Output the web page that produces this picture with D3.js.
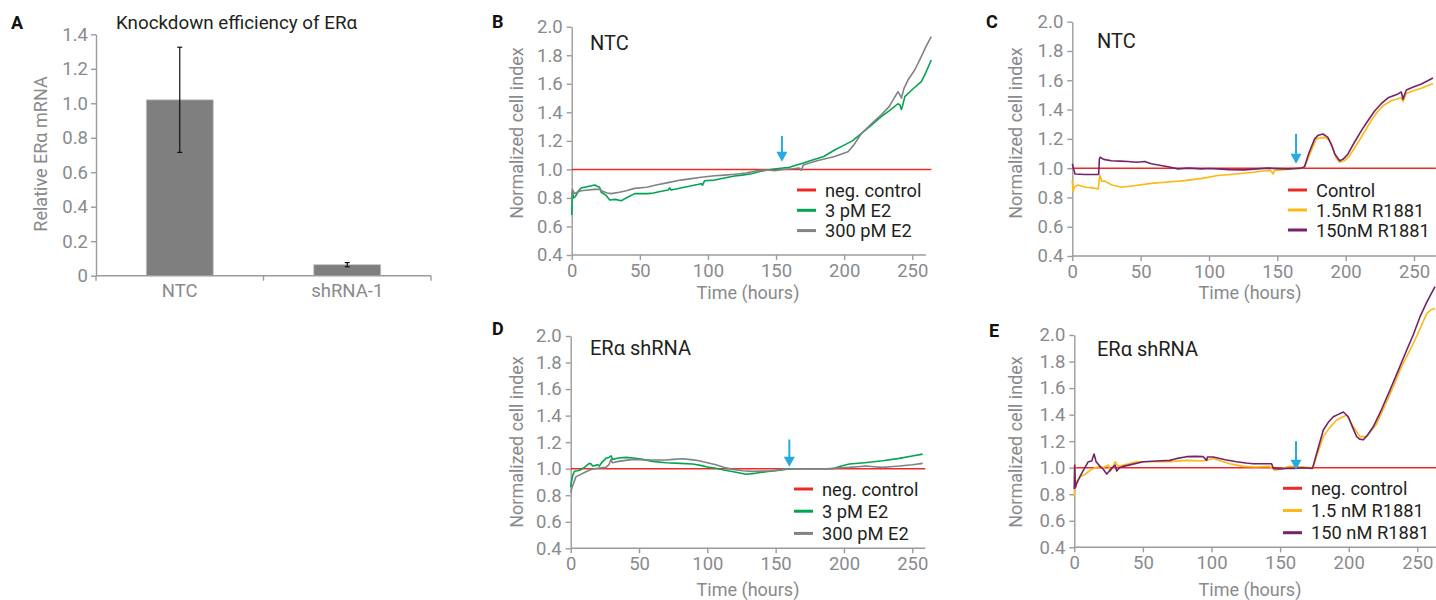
<!DOCTYPE html>
<html><head><meta charset="utf-8">
<script src="https://cdn.jsdelivr.net/npm/d3@7"></script>
<style>body{margin:0;background:#fff} text{font-family:Roboto,"Noto Sans",sans-serif}</style>
</head><body>
<svg id="chart" width="1436" height="600"></svg>
<script>
// ---------------- DATA ----------------
const knockdownCategories = ["NTC", "shRNA-1"];
const knockdownValues = [1.02, 0.064];
const knockdownErrors = [0.305, 0.012];
const knockdownTicks = [0, 0.2, 0.4, 0.6, 0.8, 1.0, 1.2, 1.4];
const cellIndexTicks = [0.4, 0.6, 0.8, 1.0, 1.2, 1.4, 1.6, 1.8, 2.0];
const timeTicks = [0, 50, 100, 150, 200, 250];

// Panel B (NTC, E2)  [hours, normalized cell index]
const bControl = [[0, 1], [264, 1]];
const bE2_3pM = [[0,0.68],[0.5,0.84],[1.5,0.80],[2.7,0.81],[5,0.85],[7,0.87],[12,0.88],[16.9,0.89],[19,0.88],[20.5,0.875],[21.7,0.84],[25,0.82],[27.9,0.785],[32,0.79],[36.4,0.78],[40,0.80],[46.2,0.83],[56,0.83],[60,0.835],[65,0.845],[70.7,0.855],[72,0.87],[73,0.855],[80,0.87],[88,0.885],[95,0.90],[96,0.89],[97.5,0.92],[105,0.925],[112,0.94],[119.6,0.954],[125,0.96],[132,0.97],[138,0.985],[144,0.996],[150,1.005],[155,1.01],[160,1.015],[165,1.03],[168.5,1.04],[175,1.06],[185,1.09],[193,1.136],[200,1.17],[206,1.2],[212.5,1.25],[220,1.31],[227.2,1.37],[233,1.41],[239.5,1.46],[241,1.45],[242,1.42],[243,1.45],[244.5,1.51],[250,1.56],[256.6,1.615],[260,1.68],[263.9,1.767]];
const bE2_300pM = [[0,0.80],[0.5,0.86],[2,0.83],[4,0.84],[7,0.85],[12,0.855],[17,0.86],[20.5,0.86],[23,0.845],[26,0.835],[29,0.83],[35,0.84],[40,0.85],[46,0.867],[55,0.875],[62,0.89],[70.7,0.907],[80,0.925],[88,0.935],[95,0.945],[105,0.955],[112,0.96],[119.6,0.966],[128,0.975],[136,0.99],[144,0.996],[149,0.99],[155,1.0],[162,1.005],[167,1.01],[168.5,0.995],[170,1.03],[180,1.06],[193,1.09],[202.8,1.124],[207,1.17],[212.5,1.25],[220,1.32],[227,1.38],[233,1.44],[239.5,1.545],[241,1.52],[242,1.50],[244,1.57],[246.8,1.626],[252,1.70],[256.6,1.79],[260,1.86],[263.9,1.93]];

// Panel C (NTC, R1881)
const cControl = [[0, 1], [266, 1]];
const cR1881_1_5nM = [[0,0.92],[0.5,0.84],[1.5,0.87],[4,0.885],[10,0.87],[15,0.865],[19,0.858],[19.8,0.93],[20.3,0.95],[21.5,0.91],[23.7,0.912],[26,0.9],[28.5,0.887],[36,0.87],[45,0.88],[57.8,0.896],[70,0.905],[82.2,0.915],[95,0.93],[106.5,0.95],[120,0.96],[131,0.97],[140,0.98],[145,0.985],[147,0.96],[148,0.985],[155,0.99],[162,0.995],[167.5,1.0],[170,1.01],[174,1.1],[178.5,1.2],[181,1.205],[184.6,1.21],[188.3,1.19],[191,1.13],[193,1.07],[195.6,1.04],[199,1.05],[202.9,1.085],[208,1.16],[214,1.25],[219,1.33],[223.7,1.39],[228,1.43],[233.4,1.46],[240.7,1.48],[242,1.455],[243,1.48],[244.4,1.51],[250,1.53],[255.4,1.546],[263.9,1.578]];
const cR1881_150nM = [[0,1.03],[0.8,1.0],[2,0.96],[9,0.957],[19.3,0.957],[19.8,1.06],[20.3,1.074],[23,1.06],[28.5,1.05],[35,1.048],[40.7,1.045],[47,1.04],[52.9,1.045],[57.8,1.03],[64,1.02],[70,1.01],[77.3,0.995],[85,1.0],[94.3,0.995],[100,0.998],[106.5,0.995],[115,0.99],[126,0.988],[135,0.995],[143,1.0],[150,0.997],[157.7,0.995],[163,0.998],[167.5,1.0],[169.9,1.01],[173,1.1],[177.3,1.2],[180,1.225],[183.4,1.233],[187,1.21],[190,1.15],[192,1.097],[195.6,1.05],[198,1.06],[201.7,1.097],[206,1.17],[211.5,1.256],[216,1.32],[221.2,1.39],[226,1.44],[231,1.48],[238.3,1.507],[240.7,1.52],[242,1.47],[243,1.50],[244.4,1.534],[250,1.555],[255.4,1.575],[263.9,1.616]];

// Panel D (ERa shRNA, E2)
const dControl = [[0, 1], [259.5, 1]];
const dE2_3pM = [[0,0.86],[0.3,0.89],[1.5,0.95],[2.7,0.98],[5,0.985],[7,0.99],[10,1.01],[13.6,1.04],[15,1.035],[16,1.02],[18,1.025],[19.7,1.03],[21,1.02],[23,1.05],[25.8,1.078],[28,1.085],[29.5,1.096],[30.7,1.07],[35,1.08],[40.5,1.085],[46,1.08],[52.7,1.07],[60,1.055],[69.7,1.045],[80,1.04],[89.3,1.035],[95,1.025],[100,1.012],[106.3,1.003],[112,0.99],[120,0.975],[128.3,0.958],[135,0.965],[143,0.977],[150,0.985],[157,0.995],[162.5,1.0],[175,1.0],[191.8,1.0],[198,1.02],[203.9,1.035],[215,1.045],[228.3,1.06],[240.5,1.078],[250,1.095],[257.6,1.11]];
const dE2_300pM = [[0,0.82],[1,0.86],[3.9,0.94],[7,0.955],[11.2,0.977],[14,0.99],[17,1.0],[21,1.005],[25.8,1.01],[28,1.03],[29.5,1.07],[30.5,1.045],[35,1.055],[45.3,1.07],[55,1.065],[69.7,1.065],[75,1.07],[81.9,1.075],[88,1.068],[94,1.06],[100,1.045],[106.3,1.03],[112,1.01],[118.6,0.995],[126,0.985],[133,0.98],[140,0.982],[147.7,0.985],[155,0.995],[162.5,1.0],[175,1.0],[187,1.0],[195,1.005],[203.9,1.01],[210,1.015],[216,1.02],[222,1.015],[228,1.01],[234,1.015],[240.5,1.02],[250,1.03],[257.6,1.04]];

// Panel E (ERa shRNA, R1881)
const eControl = [[0, 1], [264, 1]];
const eR1881_1_5nM = [[0,0.78],[0.3,1.02],[0.8,0.85],[2,0.90],[4.1,0.932],[8,0.95],[11.4,0.98],[15,1.0],[18.8,1.01],[21,1.0],[24.9,1.02],[26.1,0.97],[28,1.0],[29.7,1.045],[32.2,1.01],[36,1.02],[45.5,1.045],[55,1.045],[69.7,1.045],[81.9,1.055],[94,1.05],[101.3,1.07],[107,1.05],[113.4,1.03],[123.1,1.01],[132,1.005],[142.5,1.01],[146.2,0.98],[150,0.99],[157.1,1.01],[166.8,1.005],[174,1.0],[177,1.1],[181.5,1.234],[186,1.30],[191.2,1.36],[198.4,1.397],[200.5,1.36],[203.3,1.31],[208.2,1.234],[213,1.234],[220.3,1.33],[226,1.46],[232.5,1.61],[238,1.75],[244.7,1.887],[250,2.0],[256.9,2.163],[260,2.19],[262.9,2.20]];
const eR1881_150nM = [[0,0.84],[0.3,1.02],[0.8,0.85],[1.7,0.88],[4,0.93],[6.6,0.98],[10.2,1.045],[12.7,1.05],[14.4,1.103],[15.9,1.045],[18.8,1.01],[21,0.99],[23.6,0.952],[27.3,0.995],[29.7,1.02],[30.9,0.975],[33,1.0],[35.7,1.01],[42,1.025],[50.3,1.045],[60,1.05],[69.7,1.055],[75,1.07],[81.9,1.083],[88,1.085],[94,1.083],[96.5,1.055],[97,1.08],[101.3,1.08],[110,1.06],[118.3,1.045],[125,1.035],[130.4,1.03],[143.8,1.03],[145,0.995],[150,0.99],[154.7,0.995],[160,0.995],[166.8,1.0],[173.6,0.995],[177,1.12],[181.5,1.284],[185,1.34],[188.8,1.384],[192,1.40],[196.1,1.42],[199.7,1.384],[203,1.30],[205.8,1.234],[208,1.215],[210.7,1.21],[214,1.25],[218,1.31],[224,1.44],[230.1,1.585],[236,1.73],[242.3,1.887],[247,2.0],[252,2.138],[257,2.25],[262.9,2.364]];

// Treatment arrows: [hour, top value, tip value]
const bArrow = [154.3, 1.234, 1.054];
const cArrow = [163.7, 1.234, 1.03];
const dArrow = [160, 1.22, 1.015];
const eArrow = [161.6, 1.20, 0.985];

const e2Labels = ["neg. control", "3 pM E2", "300 pM E2"];
const cLabels = ["Control", "1.5nM R1881", "150nM R1881"];
const eLabels = ["neg. control", "1.5 nM R1881", "150 nM R1881"];

// ---------------- STYLE / LAYOUT ----------------
const C_RED = "#ee2a24", C_GREEN = "#00a64f", C_GREY = "#808285",
      C_ORANGE = "#fdb813", C_PURPLE = "#74236a", C_BLUE = "#27a9e1";
const AXIS = "#9b9b9b", TICKTXT = "#888a8d", DARK = "#231f20";
const FS_TICK = 18.5, FS_LAB = 18, FS_LEG = 18.3, FS_TITLE = 20;

const svg = d3.select("#chart");

function styleAxis(g) {
  g.selectAll("path.domain").attr("stroke", AXIS).attr("stroke-width", 1.4);
  g.selectAll(".tick line").attr("stroke", AXIS).attr("stroke-width", 1.4);
  g.selectAll(".tick text").attr("fill", TICKTXT).style("font-size", FS_TICK + "px").style("font-family", "Roboto");
}

// ---------------- PANEL A ----------------
(function () {
  const xLeft = 96, xRight = 431, yBottom = 275.7, yTop = 34.3;
  const y = d3.scaleLinear().domain([0, 1.4]).range([yBottom, yTop]);
  const x = d3.scaleBand().domain(knockdownCategories).range([xLeft, xRight]).paddingInner(0.6).paddingOuter(0.3);
  const g = svg.append("g");
  g.append("g").attr("transform", `translate(${xLeft},0)`)
    .call(d3.axisLeft(y).tickValues(knockdownTicks).tickFormat(d => d === 0 ? "0" : d3.format(".1f")(d)).tickSize(5).tickSizeOuter(0).tickPadding(3))
    .call(styleAxis);
  g.selectAll("rect.bar").data(knockdownCategories).enter().append("rect")
    .attr("x", d => x(d)).attr("width", x.bandwidth())
    .attr("y", (d, i) => y(knockdownValues[i])).attr("height", (d, i) => y(0) - y(knockdownValues[i]))
    .attr("fill", "#7f7f7f").attr("stroke", "#c8c8c8").attr("stroke-width", 0.8);
  knockdownCategories.forEach((c, i) => {
    const cx = x(c) + x.bandwidth() / 2;
    const hi = y(knockdownValues[i] + knockdownErrors[i]), lo = y(knockdownValues[i] - knockdownErrors[i]);
    g.append("line").attr("x1", cx).attr("x2", cx).attr("y1", hi).attr("y2", lo).attr("stroke", "#111").attr("stroke-width", 1.2);
    [hi, lo].forEach(v => g.append("line").attr("x1", cx - 2.5).attr("x2", cx + 2.5).attr("y1", v).attr("y2", v).attr("stroke", "#111").attr("stroke-width", 1.2));
  });
  g.append("line").attr("x1", xLeft).attr("x2", xRight).attr("y1", yBottom).attr("y2", yBottom).attr("stroke", AXIS).attr("stroke-width", 1.4);
  const bounds = [xLeft, x(knockdownCategories[1]) - x.step() * x.paddingInner() / 2, xRight];
  bounds.forEach(b => g.append("line").attr("x1", b).attr("x2", b).attr("y1", yBottom).attr("y2", yBottom + 5).attr("stroke", AXIS).attr("stroke-width", 1.4));
  knockdownCategories.forEach(c => g.append("text").attr("x", x(c) + x.bandwidth() / 2).attr("y", 297)
    .attr("text-anchor", "middle").attr("fill", TICKTXT).style("font-size", FS_TICK + "px").text(c));
  g.append("text").attr("transform", "translate(46.5,154) rotate(-90)").attr("text-anchor", "middle")
    .attr("fill", TICKTXT).style("font-size", FS_LAB + "px").text("Relative ERα mRNA");
  g.append("text").attr("x", 116).attr("y", 29).attr("fill", DARK).style("font-size", "18.8px").text("Knockdown efficiency of ERα");
  g.append("text").attr("x", 11).attr("y", 29).attr("fill", "#111").style("font-size", "18px").style("font-weight", "bold").text("A");
})();

// ---------------- LINE PANELS ----------------
function linePanel(cfg) {
  const x = d3.scaleLinear().domain([0, 250]).range([cfg.x0, cfg.x250]);
  const y = d3.scaleLinear().domain([0.4, 2.0]).range([cfg.yBottom, cfg.yTop]);
  const g = svg.append("g");
  g.append("g").attr("transform", `translate(${cfg.x0},0)`)
    .call(d3.axisLeft(y).tickValues(cellIndexTicks).tickFormat(d3.format(".1f")).tickSize(5).tickSizeOuter(0).tickPadding(4))
    .call(styleAxis);
  const xg = g.append("g").attr("transform", `translate(0,${cfg.yBottom})`)
    .call(d3.axisBottom(x).tickValues(timeTicks).tickSize(5).tickSizeOuter(0).tickPadding(4))
    .call(styleAxis);
  xg.select("path.domain").remove();
  g.append("line").attr("x1", x(0)).attr("x2", x(cfg.axisEnd)).attr("y1", cfg.yBottom).attr("y2", cfg.yBottom)
    .attr("stroke", AXIS).attr("stroke-width", 1.4);

  const line = d3.line().x(d => x(d[0])).y(d => y(d[1]));
  g.append("path").datum(cfg.control).attr("d", line).attr("fill", "none").attr("stroke", cfg.controlColor).attr("stroke-width", 1.5);
  cfg.series.forEach(s => g.append("path").datum(s.data).attr("d", line).attr("fill", "none")
    .attr("stroke", s.color).attr("stroke-width", 1.6).attr("stroke-linejoin", "round"));

  const ax = x(cfg.arrow[0]), ay1 = y(cfg.arrow[1]), ay2 = y(cfg.arrow[2]);
  g.append("line").attr("x1", ax).attr("x2", ax).attr("y1", ay1).attr("y2", ay2 - 8).attr("stroke", C_BLUE).attr("stroke-width", 2);
  g.append("path").attr("d", `M${ax - 5.5},${ay2 - 10}L${ax + 5.5},${ay2 - 10}L${ax},${ay2}Z`).attr("fill", C_BLUE);

  const colors = [cfg.controlColor].concat(cfg.series.map(s => s.color));
  cfg.labels.forEach((lab, i) => {
    const ly = cfg.legY + i * cfg.legDy;
    g.append("line").attr("x1", cfg.legX).attr("x2", cfg.legX + 19).attr("y1", ly).attr("y2", ly)
      .attr("stroke", colors[i]).attr("stroke-width", 3);
    g.append("text").attr("x", cfg.legX + 28).attr("y", ly + 6.5).attr("fill", DARK).style("font-size", FS_LEG + "px").text(lab);
  });

  g.append("text").attr("x", cfg.titleX).attr("y", cfg.titleY).attr("fill", DARK).style("font-size", FS_TITLE + "px").text(cfg.title);
  g.append("text").attr("x", cfg.letterX).attr("y", cfg.letterY).attr("fill", "#111").style("font-size", "18px").style("font-weight", "bold").text(cfg.letter);
  g.append("text").attr("transform", `translate(${cfg.yLabX},${cfg.yLabY}) rotate(-90)`).attr("text-anchor", "middle")
    .attr("fill", TICKTXT).style("font-size", FS_LAB + "px").text("Normalized cell index");
  g.append("text").attr("x", cfg.xLabX).attr("y", cfg.xLabY).attr("text-anchor", "middle")
    .attr("fill", TICKTXT).style("font-size", FS_LAB + "px").text("Time (hours)");
}

linePanel({
  x0: 571.7, x250: 912.3, yTop: 26.7, yBottom: 255, axisEnd: 260,
  control: bControl, controlColor: C_RED,
  series: [{ data: bE2_3pM, color: C_GREEN }, { data: bE2_300pM, color: C_GREY }],
  arrow: bArrow, labels: e2Labels, legX: 797, legY: 190, legDy: 20.3,
  title: "NTC", titleX: 590, titleY: 50, letter: "B", letterX: 492, letterY: 27.5,
  yLabX: 523, yLabY: 133, xLabX: 748, xLabY: 299
});
linePanel({
  x0: 1072.3, x250: 1414, yTop: 21.7, yBottom: 256, axisEnd: 266,
  control: cControl, controlColor: C_RED,
  series: [{ data: cR1881_1_5nM, color: C_ORANGE }, { data: cR1881_150nM, color: C_PURPLE }],
  arrow: cArrow, labels: cLabels, legX: 1288, legY: 190, legDy: 20,
  title: "NTC", titleX: 1097, titleY: 47.7, letter: "C", letterX: 986, letterY: 28,
  yLabX: 1021.7, yLabY: 133, xLabX: 1250, xLabY: 298.5
});
linePanel({
  x0: 570.7, x250: 912.3, yTop: 336, yBottom: 548.3, axisEnd: 259.5,
  control: dControl, controlColor: C_RED,
  series: [{ data: dE2_3pM, color: C_GREEN }, { data: dE2_300pM, color: C_GREY }],
  arrow: dArrow, labels: e2Labels, legX: 794, legY: 489, legDy: 22.2,
  title: "ERα shRNA", titleX: 590, titleY: 355, letter: "D", letterX: 492, letterY: 335,
  yLabX: 523, yLabY: 442, xLabX: 748, xLabY: 596
});
linePanel({
  x0: 1074.3, x250: 1417.3, yTop: 335, yBottom: 547.3, axisEnd: 264,
  control: eControl, controlColor: C_RED,
  series: [{ data: eR1881_1_5nM, color: C_ORANGE }, { data: eR1881_150nM, color: C_PURPLE }],
  arrow: eArrow, labels: eLabels, legX: 1283, legY: 488.3, legDy: 22.2,
  title: "ERα shRNA", titleX: 1097, titleY: 356, letter: "E", letterX: 989, letterY: 337,
  yLabX: 1021.7, yLabY: 442, xLabX: 1250, xLabY: 596
});
</script>
</body></html>
